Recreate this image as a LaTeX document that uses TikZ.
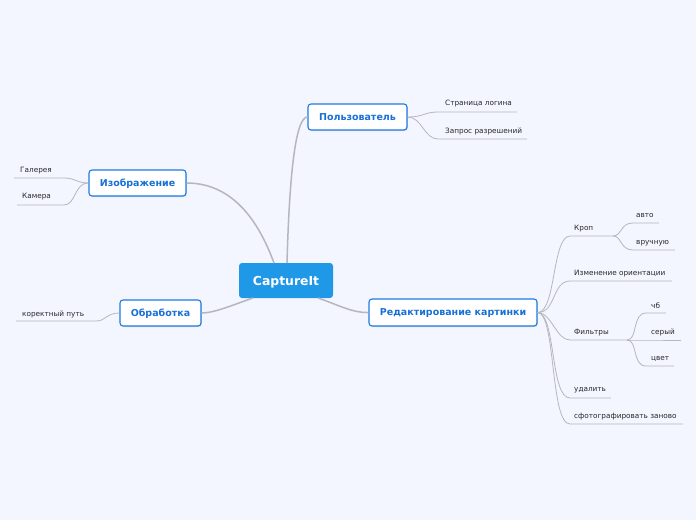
\documentclass[tikz,border=0pt]{standalone}
\usepackage{fontspec}
\setmainfont{DejaVu Sans}
\usetikzlibrary{shadows}
\definecolor{bg}{RGB}{243,246,254}
\definecolor{hubfill}{RGB}{32,152,232}
\definecolor{topicborder}{RGB}{30,122,225}
\definecolor{topictext}{RGB}{24,112,214}
\definecolor{linkcol}{RGB}{182,182,188}
\definecolor{subtext}{RGB}{40,40,40}
\begin{document}
\begin{tikzpicture}[x=1pt,y=-1pt,
  hub/.style={fill=hubfill, rounded corners=3pt, text=white, font=\fontsize{12.4}{14}\selectfont\bfseries, inner sep=0pt, minimum width=94pt, minimum height=35pt, text depth=0pt},
  topic/.style={draw=topicborder, line width=1.1pt, fill=white, rounded corners=3pt, text=topictext, font=\fontsize{9.5}{11}\selectfont\bfseries, inner sep=0pt, minimum height=26pt, text depth=0pt, drop shadow={shadow xshift=0.8pt, shadow yshift=-1pt, opacity=0.25}},
  lbl/.style={anchor=west, text=subtext, font=\fontsize{7.3}{9}\selectfont, inner sep=0pt},
  mainlink/.style={draw=linkcol, line width=1.5pt},
  sublink/.style={draw=linkcol, line width=0.8pt}
]
\fill[bg] (0,0) rectangle (696,520);
\useasboundingbox (0,0) rectangle (696,520);

\coordinate (cu) at (287,263);
\coordinate (ci) at (274,263);
\coordinate (co) at (253,298);
\coordinate (ce) at (318,298);

% hub and topics
\node[hub] (c) at (286,280.5) {CaptureIt};
\node[topic, minimum width=99pt] (u) at (357.5,117) {Пользователь};
\node[topic, minimum width=97pt] (i) at (137.5,183) {Изображение};
\node[topic, minimum width=81pt] (o) at (160.5,313) {Обработка};
\node[topic, minimum width=168pt, minimum height=27pt] (e) at (453,312.5) {Редактирование картинки};

\draw[mainlink] (cu) .. controls (289,190) and (294,117) .. (u.west);
\draw[mainlink] (ci) .. controls (260,225) and (235,183) .. (i.east);
\draw[mainlink] (co) .. controls (235,304) and (215,313) .. (o.east);
\draw[mainlink] (ce) .. controls (336,304) and (352,313) .. (e.west);

% Пользователь children
\node[lbl] (u1) at (445,104) {Страница логина};
\node[lbl] (u2) at (445,131) {Запрос разрешений};
\coordinate (u1s) at (438,112); \coordinate (u1e) at (517,112);
\coordinate (u2s) at (438,139); \coordinate (u2e) at (527,139);
\draw[sublink] (u.east) .. controls (424,117) and (424,112) .. (u1s) -- (u1e);
\draw[sublink] (u.east) .. controls (422,117) and (424,139) .. (u2s) -- (u2e);

% Изображение children
\node[lbl] (i1) at (20,170.5) {Галерея};
\node[lbl] (i2) at (22,197) {Камера};
\coordinate (i1s) at (64,178); \coordinate (i1e) at (14,178);
\coordinate (i2s) at (64,205); \coordinate (i2e) at (17,205);
\draw[sublink] (i.west) .. controls (76,183) and (76,178) .. (i1s) -- (i1e);
\draw[sublink] (i.west) .. controls (74,183) and (76,205) .. (i2s) -- (i2e);

% Обработка children
\node[lbl] (o1) at (22,314) {коректный путь};
\coordinate (o1s) at (96,321); \coordinate (o1e) at (16,321);
\draw[sublink] (o.west) .. controls (106,313) and (106,321) .. (o1s) -- (o1e);

% Редактирование children
\node[lbl] (e1) at (574,229) {Кроп};
\node[lbl] (e2) at (574,274) {Изменение ориентации};
\node[lbl] (e3) at (574,333) {Фильтры};
\node[lbl] (e4) at (574,390) {удалить};
\node[lbl] (e5) at (574,417) {сфотографировать заново};
\coordinate (e1s) at (570,236); \coordinate (e1e) at (613,236);
\coordinate (e2s) at (570,281); \coordinate (e2e) at (672,281);
\coordinate (e3s) at (570,340); \coordinate (e3e) at (627,340);
\coordinate (e4s) at (570,398); \coordinate (e4e) at (611,398);
\coordinate (e5s) at (570,424); \coordinate (e5e) at (683,424);
\draw[sublink] (e.east) .. controls (556,313) and (552,236) .. (e1s) -- (e1e);
\draw[sublink] (e.east) .. controls (556,313) and (552,281) .. (e2s) -- (e2e);
\draw[sublink] (e.east) .. controls (552,313) and (556,340) .. (e3s) -- (e3e);
\draw[sublink] (e.east) .. controls (556,313) and (550,398) .. (e4s) -- (e4e);
\draw[sublink] (e.east) .. controls (556,313) and (550,424) .. (e5s) -- (e5e);

% Кроп children
\node[lbl] (k1) at (636,216) {авто};
\node[lbl] (k2) at (636,243) {вручную};
\coordinate (k1s) at (633,223); \coordinate (k1e) at (659,223);
\coordinate (k2s) at (633,250); \coordinate (k2e) at (675,250);
\draw[sublink] (e1e) .. controls (622,236) and (620,223) .. (k1s) -- (k1e);
\draw[sublink] (e1e) .. controls (622,236) and (620,250) .. (k2s) -- (k2e);

% Фильтры children
\node[lbl] (f1) at (651,306) {чб};
\node[lbl] (f2) at (651,332) {серый};
\node[lbl] (f3) at (651,359) {цвет};
\coordinate (f1s) at (646,313); \coordinate (f1e) at (666,313);
\coordinate (f2s) at (646,340); \coordinate (f2e) at (681,340);
\coordinate (f3s) at (646,366); \coordinate (f3e) at (674,366);
\draw[sublink] (e3e) .. controls (638,340) and (632,313) .. (f1s) -- (f1e);
\draw[sublink] (e3e) -- (f2s) -- (f2e);
\draw[sublink] (e3e) .. controls (638,340) and (632,366) .. (f3s) -- (f3e);
\end{tikzpicture}
\end{document}
